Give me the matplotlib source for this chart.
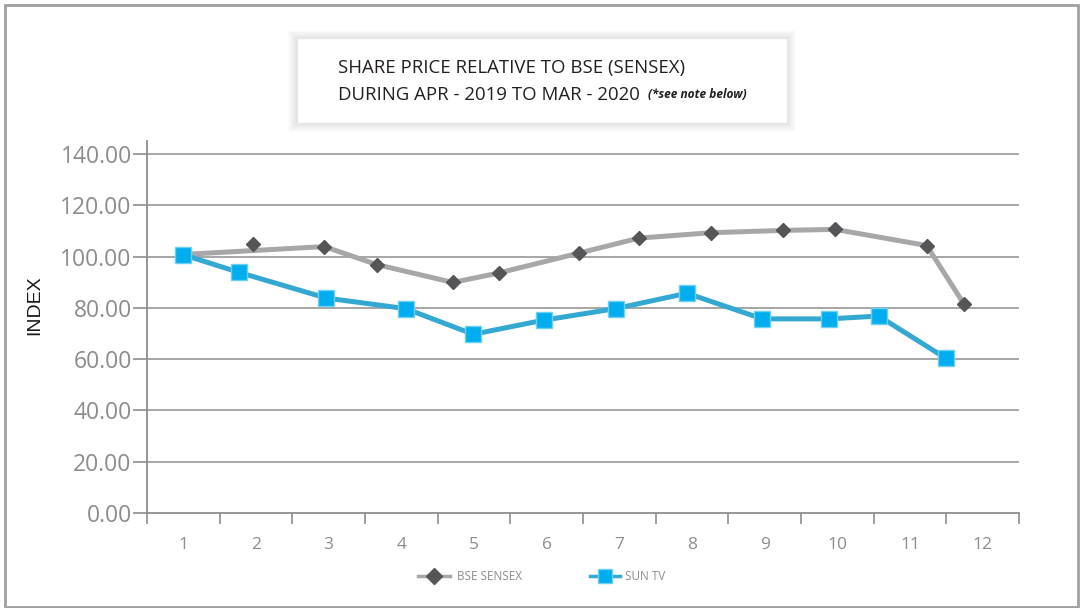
import matplotlib
matplotlib.use("Agg")
import matplotlib.pyplot as plt
from matplotlib.patches import Rectangle
from matplotlib.lines import Line2D

# ---- data ----
categories = [str(i) for i in range(1, 13)]
y_ticks = [0, 20, 40, 60, 80, 100, 120, 140]
y_tick_labels = ["%.2f" % v for v in y_ticks]

sun_x = [0.99, 1.77, 2.97, 4.06, 4.99, 5.96, 6.95, 7.93, 8.97, 9.89, 10.57, 11.49]
sun_y = [100.8, 93.8, 83.8, 79.7, 69.7, 75.2, 79.7, 85.7, 75.7, 75.7, 76.8, 60.4]

bse_marker_x = [1.96, 2.94, 3.66, 4.71, 5.34, 6.45, 7.27, 8.26, 9.25, 9.97, 11.23, 11.74]
bse_marker_y = [104.9, 103.9, 96.9, 89.9, 93.6, 101.4, 107.2, 109.3, 110.2, 110.6, 104.3, 81.6]
bse_line_x = [0.99, 2.94, 3.66, 4.71, 5.34, 6.45, 7.27, 8.26, 9.25, 9.97, 11.23, 11.74]
bse_line_y = [100.8, 103.9, 96.9, 89.9, 93.6, 101.4, 107.2, 109.3, 110.2, 110.6, 104.3, 81.6]

title_line1 = "SHARE PRICE RELATIVE TO BSE (SENSEX)"
title_line2 = "DURING APR - 2019 TO MAR - 2020"
title_note = "(*see note below)"

W, H = 1080, 608
fig = plt.figure(figsize=(W / 100, H / 100), dpi=100)
fig.patch.set_facecolor("white")

# outer border
fig.add_artist(Rectangle((4.5 / W, 1 - 606.5 / H), (1077.5 - 4.5) / W, (606.5 - 5) / H,
                         transform=fig.transFigure, fill=False, edgecolor="#a0a0a2", lw=2))

# axes: x 147..1019 px, y 0 at 513, 140 at 154
ax_left, ax_right = 147, 1019
y0_px, y140_px = 513, 154
ppu = (y0_px - y140_px) / 140.0
ymax = 145
top_px = y0_px - ymax * ppu
ax = fig.add_axes([ax_left / W, 1 - y0_px / H, (ax_right - ax_left) / W, (y0_px - top_px) / H])
ax.set_xlim(0.5, 12.5)
ax.set_ylim(0, ymax)

grid_c = "#8e8e90"
for v in y_ticks[1:]:
    ax.axhline(v, color=grid_c, lw=1.1, zorder=1)

for s in ["top", "right"]:
    ax.spines[s].set_visible(False)
ax.spines["left"].set_color(grid_c)
ax.spines["bottom"].set_color(grid_c)
ax.spines["left"].set_linewidth(1.3)
ax.spines["bottom"].set_linewidth(1.3)

ax.set_yticks(y_ticks)
ax.set_yticklabels(y_tick_labels)
ax.set_xticks([i + 0.5 for i in range(0, 13)])
ax.set_xticklabels([])
ax.set_xticks(list(range(1, 13)), minor=True)
ax.set_xticklabels(categories, minor=True)
ax.tick_params(axis="x", which="major", length=8, color=grid_c, width=1.2, direction="out")
ax.tick_params(axis="x", which="minor", length=0, pad=17, labelsize=12.5, labelcolor="#8c8c8e")
ax.tick_params(axis="y", length=10, color=grid_c, width=1.2, direction="out",
               labelsize=16.5, labelcolor="#8c8c8e", pad=1)
for lab in ax.get_yticklabels():
    lab.set_family("Open Sans")
for lab in ax.get_xticklabels(minor=True):
    lab.set_family(["Liberation Sans Narrow", "Open Sans"])

ax.set_ylabel("INDEX", fontsize=14, color="#1a1a1a", family="Liberation Sans")
ax.yaxis.set_label_coords(-(ax_left - 43) / (ax_right - ax_left), (y0_px - 305) / (y0_px - top_px))

# series
bse_line_c = "#a7a7a9"
bse_mark_c = "#555557"
sun_line_c = "#33a8d2"
sun_mark_c = "#00aeef"

ax.plot(bse_line_x, bse_line_y, color=bse_line_c, lw=3.6, zorder=3, solid_capstyle="round")
ax.plot(bse_marker_x, bse_marker_y, linestyle="none", marker="D", ms=7.5,
        color=bse_mark_c, mec=bse_mark_c, zorder=4)
ax.plot(sun_x, sun_y, color=sun_line_c, lw=3.6, zorder=5, solid_capstyle="round")
ax.plot(sun_x, sun_y, linestyle="none", marker="s", ms=11, color=sun_mark_c,
        mec="#6cd0f5", mew=1, zorder=6)

# title box with soft shadow
bx0, by0, bx1, by1 = 296.5, 38.5, 786.5, 122.5
for d in range(9, 0, -1):
    fig.add_artist(Rectangle(((bx0 - d) / W, 1 - (by1 + d) / H),
                             (bx1 - bx0 + 2 * d) / W, (by1 - by0 + 2 * d) / H,
                             transform=fig.transFigure, facecolor="#000000", alpha=0.012,
                             edgecolor="none", zorder=0))
fig.add_artist(Rectangle((bx0 / W, 1 - by1 / H), (bx1 - bx0) / W, (by1 - by0) / H,
                         transform=fig.transFigure, facecolor="white",
                         edgecolor="#e6e6e6", lw=1, zorder=1))
fig.text(338 / W, 1 - 68 / H, title_line1, fontsize=13.4, color="#231f20",
         family="Open Sans", va="center", ha="left", zorder=2)
fig.text(338 / W, 1 - 95 / H, title_line2, fontsize=13.4, color="#231f20",
         family="Open Sans", va="center", ha="left", zorder=2)
fig.text(648 / W, 1 - 95 / H, title_note, fontsize=8.6, color="#231f20",
         family="Open Sans", style="italic", weight="bold", va="center", ha="left", zorder=2)

# legend
ly = 1 - 576 / H
fig.add_artist(Line2D([418 / W, 450 / W], [ly, ly], color=bse_line_c, lw=2.5,
                      transform=fig.transFigure))
fig.add_artist(Line2D([434 / W], [ly], marker="D", ms=8, color=bse_mark_c,
                      linestyle="none", transform=fig.transFigure))
fig.text(457 / W, ly, "BSE SENSEX", fontsize=8.5, color="#8c8c8e", family="Open Sans",
         va="center", ha="left")
fig.add_artist(Line2D([590 / W, 620 / W], [ly, ly], color=sun_line_c, lw=2.5,
                      transform=fig.transFigure))
fig.add_artist(Line2D([605 / W], [ly], marker="s", ms=10, color=sun_mark_c, mec="#6cd0f5",
                      linestyle="none", transform=fig.transFigure))
fig.text(625 / W, ly, "SUN TV", fontsize=8.5, color="#8c8c8e", family="Open Sans",
         va="center", ha="left")

fig.savefig("out.png", dpi=100, facecolor="white")
